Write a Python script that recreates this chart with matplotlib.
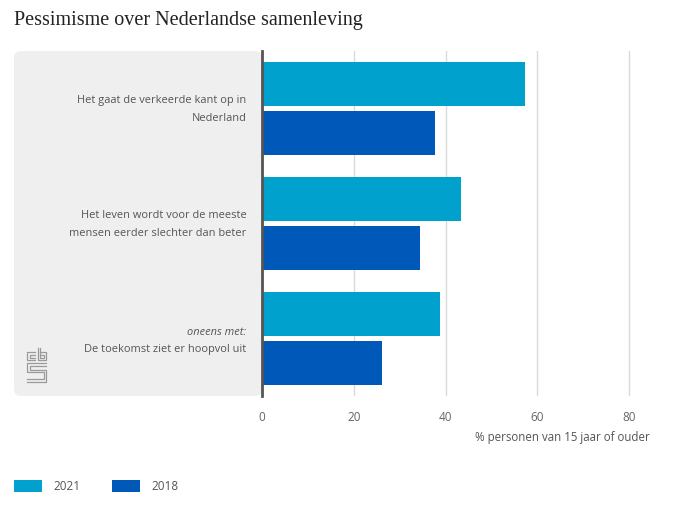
import matplotlib
matplotlib.use("Agg")
import matplotlib.pyplot as plt
from matplotlib.patches import FancyBboxPatch, Rectangle
from matplotlib.lines import Line2D
import numpy as np

categories = ["Het gaat de verkeerde kant op in\nNederland",
              "Het leven wordt voor de meeste\nmensen eerder slechter dan beter",
              "De toekomst ziet er hoopvol uit"]
series_names = ["2021", "2018"]
values_2021 = [57.3, 43.3, 38.8]
values_2018 = [37.7, 34.4, 26.2]
xticks = [0, 20, 40, 60, 80]
colors = ["#00a1cd", "#0058b8"]

W, H = 680, 510
fig = plt.figure(figsize=(6.8, 5.1), dpi=100)

def fx(px):
    return px / W

def fy(py):
    return 1 - py / H

# grey label panel
panel = FancyBboxPatch((fx(14), fy(397)), fx(262) - fx(14), fy(52) - fy(397),
                       boxstyle="round,pad=0,rounding_size=0.012",
                       transform=fig.transFigure, facecolor="#efefef",
                       edgecolor="none", zorder=-5)
fig.patches.append(panel)

ax_left, ax_right = 262, 652
ax = fig.add_axes([fx(ax_left), fy(397), fx(ax_right) - fx(ax_left), fy(52) - fy(397)])
ax.set_facecolor("none")
ax.set_zorder(2)

n = len(categories)
y = np.arange(n)
bh = 0.383
off = 0.213
ax.barh(y - off, values_2021, height=bh, color=colors[0], zorder=3, label=series_names[0])
ax.barh(y + off, values_2018, height=bh, color=colors[1], zorder=3, label=series_names[1])
ax.set_ylim(n - 0.5, -0.5)
ax.set_xlim(0, 85)
ax.set_xticks(xticks)
ax.set_xticklabels([str(t) for t in xticks])
ax.xaxis.grid(True, color="#d9d9d9", linewidth=1, zorder=0)
ax.set_yticks([])
for s in ["top", "right", "bottom"]:
    ax.spines[s].set_visible(False)
ax.spines["left"].set_color("#555555")
ax.spines["left"].set_linewidth(2)
ax.spines["left"].set_zorder(5)
ax.tick_params(axis="x", length=0, pad=10, labelsize=8.5, labelcolor="#666666")
for lbl in ax.get_xticklabels():
    lbl.set_family("Open Sans")

lab_font = dict(family="Open Sans", fontsize=7.9, color="#555555")
tr = ax.get_yaxis_transform()
ax.text(-0.04, 0, categories[0], transform=tr,
        ha="right", va="center", linespacing=1.9, **lab_font)
ax.text(-0.04, 1, categories[1], transform=tr,
        ha="right", va="center", linespacing=1.9, **lab_font)
ax.text(-0.04, 2 - 0.057, "oneens met:", transform=tr,
        ha="right", va="center", style="italic", **lab_font)
ax.text(-0.04, 2 + 0.083, categories[2], transform=tr,
        ha="right", va="center", **lab_font)

# title
fig.text(fx(14), fy(20), "Pessimisme over Nederlandse samenleving",
         family="Liberation Serif", fontsize=14.5, color="#222222", va="center", ha="left")

# x label
fig.text(fx(650), fy(438), "% personen van 15 jaar of ouder", family="Open Sans",
         fontsize=8.3, color="#555555", ha="right", va="center")

# legend
for name, c, x0 in zip(series_names, colors, [14, 112]):
    fig.patches.append(Rectangle((fx(x0), fy(493)), fx(28), fy(481) - fy(493),
                                 transform=fig.transFigure, facecolor=c, edgecolor="none"))
    fig.text(fx(x0 + 39), fy(487), name, family="Open Sans", fontsize=8.5,
             color="#555555", ha="left", va="center")

# cbs logo approximation
lc = "#9a9a9a"
def seg(pts):
    xs = [fx(p[0]) for p in pts]
    ys = [fy(p[1]) for p in pts]
    fig.add_artist(Line2D(xs, ys, color=lc, linewidth=0.9, transform=fig.transFigure))

seg([(35, 353), (27, 353), (27, 361), (35, 361)])
seg([(35, 355.5), (29.5, 355.5), (29.5, 358.5), (35, 358.5)])
seg([(37.5, 349), (37.5, 361), (46, 361), (46, 353), (40, 353)])
seg([(40, 349), (40, 358.5), (43.5, 358.5), (43.5, 355.5), (40, 355.5)])
seg([(46, 364), (27, 364), (27, 373), (43.5, 373), (43.5, 380), (27, 380)])
seg([(46, 366.5), (29.5, 366.5), (29.5, 370.5), (46, 370.5), (46, 382.5), (27, 382.5)])

fig.savefig("out.png", dpi=100)
